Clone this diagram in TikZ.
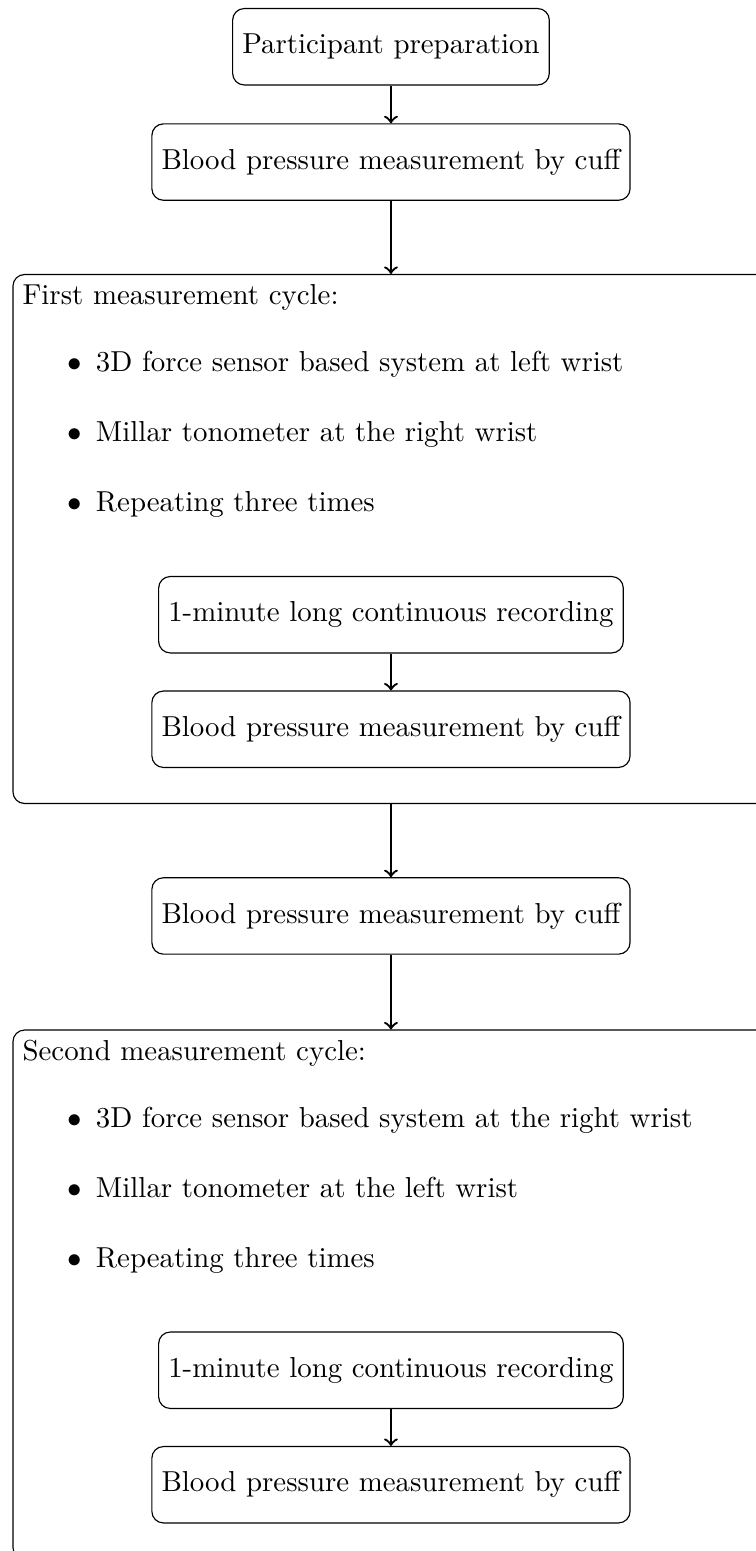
\documentclass[tikz,border=0pt]{standalone}
\usetikzlibrary{positioning}

\tikzset{
  stepbox/.style={draw, rounded corners, minimum height=0.93cm},
  cyclebox/.style={draw, rounded corners, minimum width=9.204cm, minimum height=6.44cm},
  itemline/.style={anchor=base west, inner sep=0pt},
  flow/.style={->, thick}
}
\newcommand{\bul}[1]{$\bullet$\hspace{5pt}#1}

\begin{document}
\begin{tikzpicture}
    \path[use as bounding box, clip] (0,0) rectangle (9.204,-18.883);

    \node [stepbox] (prep) at (4.76,-0.569) {Participant preparation};
    \node [stepbox, below=0.46cm of prep] (cuff0) {Blood pressure measurement by cuff};

    % first cycle
    \node [cyclebox, below=0.89cm of cuff0] (cycle1) {};
    \node [anchor=north west] (head1) at (cycle1.north west) {First measurement cycle:};
    \node [itemline] (item11) at ([xshift=0.659cm,yshift=-1.193cm]cycle1.north west) {\bul{3D force sensor based system at left wrist}};
    \node [itemline] (item12) at ([xshift=0.659cm,yshift=-2.045cm]cycle1.north west) {\bul{Millar tonometer at the right wrist}};
    \node [itemline] (item13) at ([xshift=0.659cm,yshift=-2.898cm]cycle1.north west) {\bul{Repeating three times}};
    \node [stepbox, below=3.677cm of cycle1.north] (rec1) {1-minute long continuous recording};
    \node [stepbox, below=0.45cm of rec1] (cuff1) {Blood pressure measurement by cuff};

    \node [stepbox, below=0.89cm of cycle1] (cuff2) {Blood pressure measurement by cuff};

    % second cycle
    \node [cyclebox, below=0.91cm of cuff2] (cycle2) {};
    \node [anchor=north west] (head2) at (cycle2.north west) {Second measurement cycle:};
    \node [itemline] (item21) at ([xshift=0.659cm,yshift=-1.193cm]cycle2.north west) {\bul{3D force sensor based system at the right wrist}};
    \node [itemline] (item22) at ([xshift=0.659cm,yshift=-2.045cm]cycle2.north west) {\bul{Millar tonometer at the left wrist}};
    \node [itemline] (item23) at ([xshift=0.659cm,yshift=-2.898cm]cycle2.north west) {\bul{Repeating three times}};
    \node [stepbox, below=3.677cm of cycle2.north] (rec2) {1-minute long continuous recording};
    \node [stepbox, below=0.45cm of rec2] (cuff3) {Blood pressure measurement by cuff};

    \draw [flow] (prep) -- (cuff0);
    \draw [flow] (cuff0) -- (cycle1);
    \draw [flow] (rec1) -- (cuff1);
    \draw [flow] (cycle1) -- (cuff2);
    \draw [flow] (cuff2) -- (cycle2);
    \draw [flow] (rec2) -- (cuff3);
\end{tikzpicture}
\end{document}
